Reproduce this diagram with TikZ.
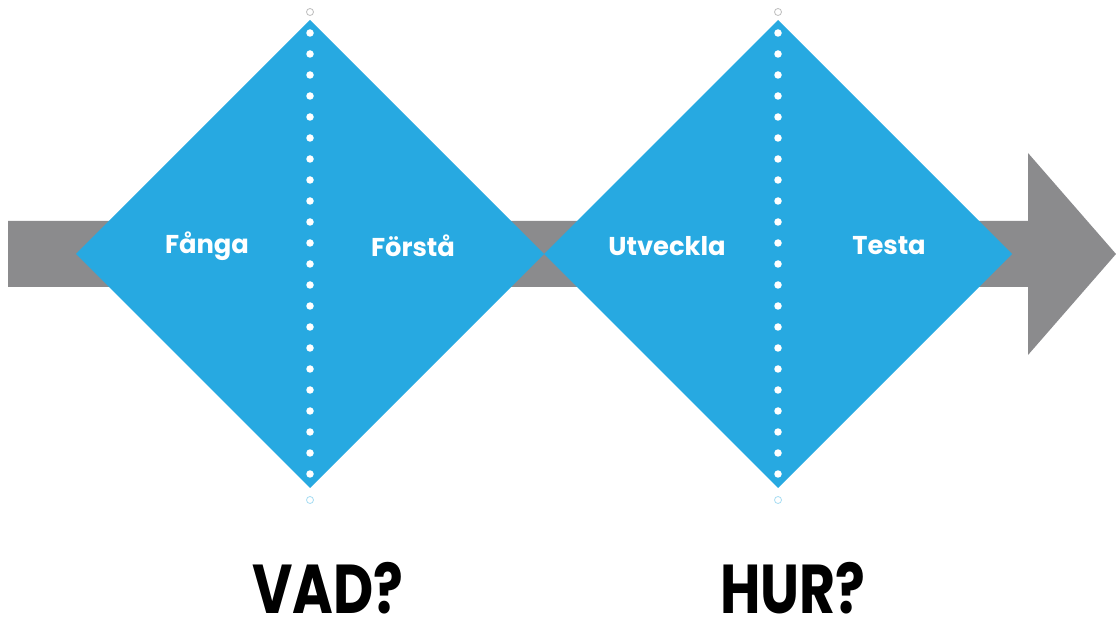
\documentclass[tikz,border=0pt]{standalone}
\usepackage{fontspec}
\newfontfamily\phasefont{Poppins}
\usepackage{tikz}
\usetikzlibrary{positioning}
\definecolor{diamondblue}{HTML}{27A9E1}
\definecolor{arrowgray}{HTML}{8B8B8D}
\tikzset{
  phase/.style={text=white, font=\phasefont\bfseries\fontsize{22}{24}\selectfont},
  question/.style={text=black, inner sep=0pt, anchor=base, text depth=0pt, font=\phasefont\bfseries\fontsize{59}{62}\selectfont, xscale=0.8},
  dot/.style={fill=white},
  endring/.style={draw=#1, line width=0.7pt, fill=white}
}

\begin{document}
\begin{tikzpicture}[x=0.03cm, y=-0.03cm]
	\useasboundingbox (0,0) rectangle (1116,629);
	% big gray arrow
	\fill[arrowgray] (8,221) -- (1028,221) -- (1028,153) -- (1116,254) -- (1028,355) -- (1028,287) -- (8,287) -- cycle;
	% the two diamonds
	\coordinate (vad) at (310,254);
	\coordinate (hur) at (778,254);
	\foreach \c in {vad, hur} {
		\fill[diamondblue] (\c) ++(0,-234) -- ++(234,234) -- ++(-234,234) -- ++(-234,-234) -- cycle;
		\foreach \i in {0,...,21}
			\fill[dot] (\c) ++(0,-221+\i*21) circle (3.2pt);
		\draw[endring=gray!50] (\c) ++(0,-242) circle (3pt);
		\draw[endring=diamondblue!40] (\c) ++(0,246) circle (3pt);
	}
	% phase labels
	\node[phase] (fanga) at (207,246) {Fånga};
	\node[phase] (forsta) at (413,246) {Förstå};
	\node[phase] (utveckla) at (667,246) {Utveckla};
	\node[phase] (testa) at (889,246) {Testa};
	% questions
	\node[question] (vadq) at (328,613) {VAD?};
	\node[question] (hurq) at (793,613) {HUR?};
\end{tikzpicture}
\end{document}
